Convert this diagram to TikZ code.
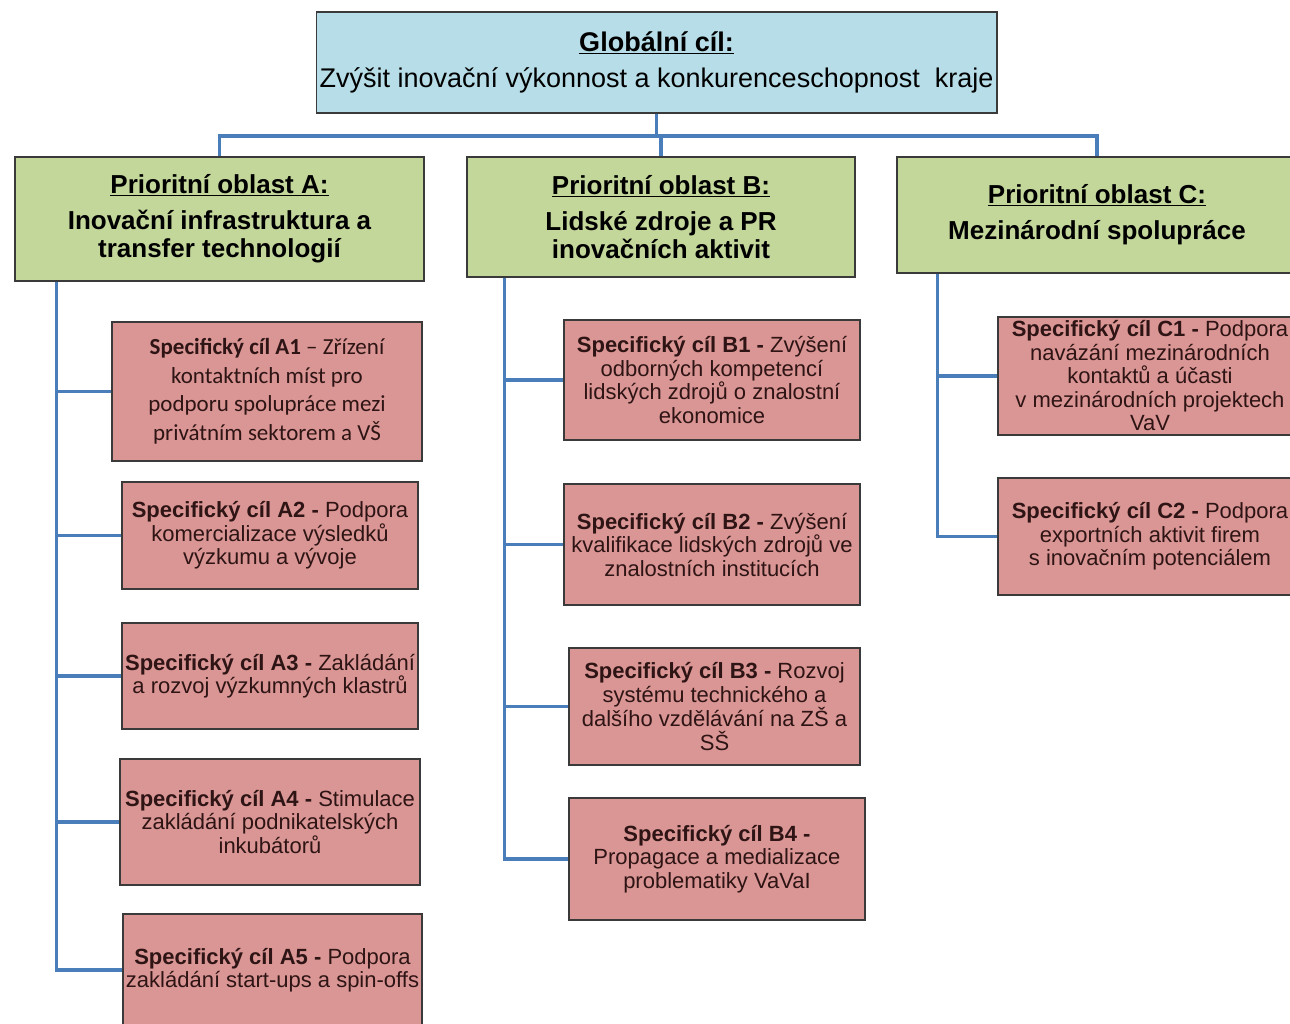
\documentclass[tikz,border=0pt]{standalone}
\usepackage{fontspec}
\setmainfont{Liberation Sans}
\newfontfamily\calibri{Carlito}
\usepackage{tikz}
\usetikzlibrary{positioning}
\definecolor{goalblue}{HTML}{B7DEE8}
\definecolor{areagreen}{HTML}{C4D79B}
\definecolor{aimpink}{HTML}{D99694}
\definecolor{linkblue}{HTML}{4A7EBB}
\definecolor{boxline}{HTML}{3A3A3A}
\definecolor{aimtext}{HTML}{2E1414}
\tikzset{
  goal/.style={draw=boxline, line width=1.5pt, fill=goalblue, align=center,
    minimum width=677pt, minimum height=101pt, font=\fontsize{27}{36}\selectfont},
  area/.style={draw=boxline, line width=1.5pt, fill=areagreen, align=center,
    font=\fontsize{26}{28}\selectfont\bfseries},
  aim/.style={draw=boxline, line width=1.5pt, fill=aimpink, align=center, inner sep=1pt,
    text=aimtext, font=\fontsize{22}{23.5}\selectfont},
  link/.style={draw=linkblue, line width=3.5pt}
}
\begin{document}
\begin{tikzpicture}[x=1pt, y=-1pt]
\useasboundingbox[fill=white] (0,0) rectangle (1290,1023);
\node[goal] (goal) at (656.5,62.5) {\underline{\textbf{Globální cíl:}}\\ Zvýšit inovační výkonnost a konkurenceschopnost~ kraje};
\node[area, minimum width=409pt, minimum height=124pt] (areaA) at (219.5,219) {\underline{Prioritní oblast A:}\\[8pt] Inovační infrastruktura a\\ transfer technologií};
\node[area, minimum width=388pt, minimum height=120pt] (areaB) at (661,217) {\underline{Prioritní oblast B:}\\[8pt] Lidské zdroje a PR\\ inovačních aktivit};
\node[area, minimum width=400pt, minimum height=116pt] (areaC) at (1097,215) {\underline{Prioritní oblast C:}\\[8pt] Mezinárodní spolupráce};

\node[aim, minimum width=310pt, minimum height=139pt, font=\calibri\fontsize{23}{28.5}\selectfont] (A1) at (267,391.5) {\textbf{Specifický cíl A1} – Zřízení\\ kontaktních míst pro\\ podporu spolupráce mezi\\ privátním sektorem a VŠ};
\node[aim, minimum width=296pt, minimum height=107pt] (A2) at (270,535.5) {\textbf{Specifický cíl A2 -} Podpora\\ komercializace výsledků\\ výzkumu a vývoje};
\node[aim, minimum width=296pt, minimum height=106pt] (A3) at (270,676) {\textbf{Specifický cíl A3 -} Zakládání\\ a rozvoj výzkumných klastrů};
\node[aim, minimum width=300pt, minimum height=126pt] (A4) at (270,822) {\textbf{Specifický cíl A4 -} Stimulace\\ zakládání podnikatelských\\ inkubátorů};
\node[aim, minimum width=299pt, minimum height=112pt] (A5) at (272.5,970) {\textbf{Specifický cíl A5 -} Podpora\\ zakládání start-ups a spin-offs};

\node[aim, minimum width=296pt, minimum height=120pt] (B1) at (712,380) {\textbf{Specifický cíl B1 -} Zvýšení\\ odborných kompetencí\\ lidských zdrojů o znalostní\\ ekonomice};
\node[aim, minimum width=296pt, minimum height=121pt] (B2) at (712,544.5) {\textbf{Specifický cíl B2 -} Zvýšení\\ kvalifikace lidských zdrojů ve\\ znalostních institucích};
\node[aim, minimum width=291pt, minimum height=117pt] (B3) at (714.5,706.5) {\textbf{Specifický cíl B3 -} Rozvoj\\ systému technického a\\ dalšího vzdělávání na ZŠ a\\ SŠ};
\node[aim, minimum width=296pt, minimum height=122pt] (B4) at (717,859) {\textbf{Specifický cíl B4 -}\\ Propagace a medializace\\ problematiky VaVaI};

\node[aim, minimum width=304pt, minimum height=118pt] (C1) at (1150,376) {\textbf{Specifický cíl C1 -} Podpora\\ navázání mezinárodních\\ kontaktů a účasti\\ v mezinárodních projektech\\ VaV};
\node[aim, minimum width=304pt, minimum height=117pt] (C2) at (1150,536.5) {\textbf{Specifický cíl C2 -} Podpora\\ exportních aktivit firem\\ s inovačním potenciálem};

\draw[link] (goal.south) -- ++(0,22) coordinate (fork);
\foreach \p in {areaA,areaB,areaC}
  \draw[link] (fork) -| (\p.north);
\coordinate (spineA) at ([xshift=42pt]areaA.south west);
\coordinate (spineB) at ([xshift=38pt]areaB.south west);
\coordinate (spineC) at ([xshift=41pt]areaC.south west);
\draw[link] (spineA) |- (A5.west);
\draw[link] (spineB) |- (B4.west);
\draw[link] (spineC) |- (C2.west);
\foreach \n in {A1,A2,A3,A4}
  \draw[link] (\n.west) -- (\n.west -| spineA);
\foreach \n in {B1,B2,B3}
  \draw[link] (\n.west) -- (\n.west -| spineB);
\draw[link] (C1.west) -- (C1.west -| spineC);
\end{tikzpicture}
\end{document}
